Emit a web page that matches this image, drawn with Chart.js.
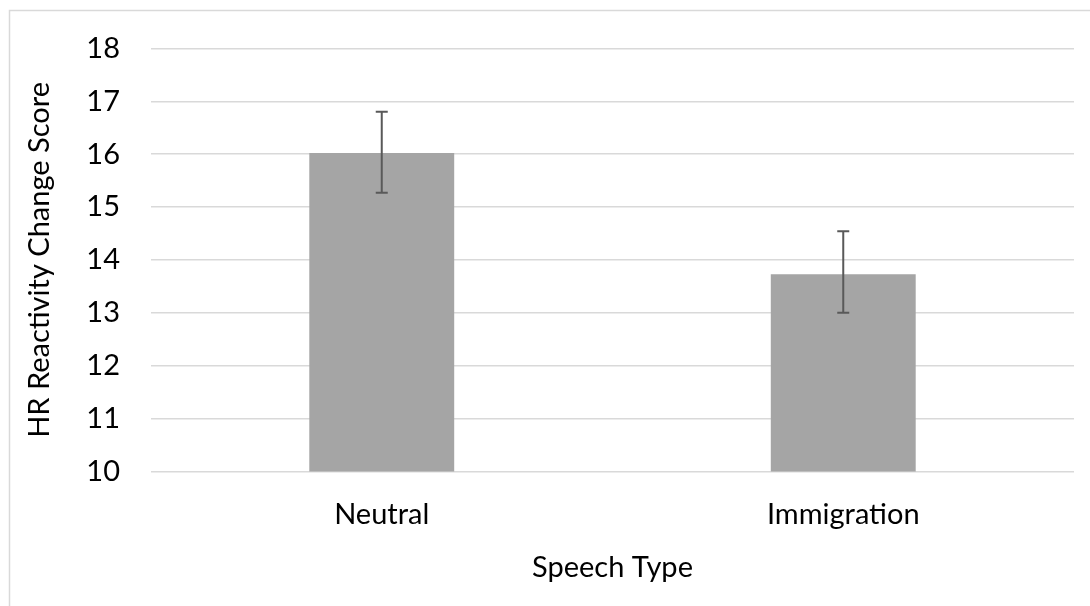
<!DOCTYPE html>
<html>
<head>
<meta charset="utf-8">
<script src="https://cdn.jsdelivr.net/npm/chart.js@4.4.0/dist/chart.umd.min.js"></script>
<style>
  html, body { margin: 0; padding: 0; background: #fff; }
  #wrap { width: 1090px; height: 606px; position: relative; }
</style>
</head>
<body>
<div id="wrap"><canvas id="hrChart"></canvas></div>
<script>
// --- DONNEES ---
const categories = ["Neutral", "Immigration"];
const meanScores = [16.02, 13.73];
const errUpper = [16.80, 14.54];
const errLower = [15.27, 13.00];
const yTicks = [10, 11, 12, 13, 14, 15, 16, 17, 18];

const fontFamily = "Lato, 'Open Sans', sans-serif";

// bordure du graphique (style Excel)
const chartBorder = {
  id: "chartBorder",
  beforeDraw(chart) {
    const ctx = chart.ctx;
    ctx.save();
    ctx.fillStyle = "#fff";
    ctx.fillRect(0, 0, chart.width, chart.height);
    ctx.strokeStyle = "#D9D9D9";
    ctx.lineWidth = 1.5;
    ctx.strokeRect(9.5, 10.5, chart.width + 20, chart.height + 20);
    ctx.restore();
  }
};

// barres d'erreur
const errorBars = {
  id: "errorBars",
  afterDatasetsDraw(chart) {
    const ctx = chart.ctx;
    const xs = chart.scales.x, ys = chart.scales.y;
    ctx.save();
    ctx.strokeStyle = "#595959";
    ctx.lineWidth = 2;
    categories.forEach((c, i) => {
      const x = xs.getPixelForValue(i);
      const yt = ys.getPixelForValue(errUpper[i]);
      const yb = ys.getPixelForValue(errLower[i]);
      ctx.beginPath();
      ctx.moveTo(x, yt); ctx.lineTo(x, yb);
      ctx.moveTo(x - 6, yt); ctx.lineTo(x + 6, yt);
      ctx.moveTo(x - 6, yb); ctx.lineTo(x + 6, yb);
      ctx.stroke();
    });
    ctx.restore();
  }
};

new Chart(document.getElementById("hrChart"), {
  type: "bar",
  data: {
    labels: categories,
    datasets: [{
      label: "HR Reactivity",
      data: meanScores,
      backgroundColor: "#A5A5A5",
      borderWidth: 0,
      categoryPercentage: 1,
      barPercentage: 0.314
    }]
  },
  options: {
    responsive: true,
    maintainAspectRatio: false,
    animation: false,
    layout: { padding: { left: 22, top: 43, right: 16, bottom: 17 } },
    plugins: { legend: { display: false }, tooltip: { enabled: false } },
    scales: {
      x: {
        grid: { display: false },
        border: { display: false },
        ticks: { color: "#000", padding: 18, font: { family: fontFamily, size: 29 } },
        title: {
          display: true, text: "Speech Type", color: "#000",
          padding: { top: 0, bottom: 4 },
          font: { family: fontFamily, size: 29 }
        }
      },
      y: {
        min: 10, max: 18,
        afterBuildTicks: axis => { axis.ticks = yTicks.map(v => ({ value: v })); },
        afterFit: axis => { axis.width = 129; },
        grid: { color: "#D9D9D9", lineWidth: 1.5, drawTicks: false },
        border: { display: false },
        ticks: { color: "#000", padding: 31, font: { family: fontFamily, size: 29 } },
        title: {
          display: true, text: "HR Reactivity Change Score", color: "#000",
          padding: 0,
          font: { family: fontFamily, size: 29 }
        }
      }
    }
  },
  plugins: [chartBorder, errorBars]
});
</script>
</body>
</html>
